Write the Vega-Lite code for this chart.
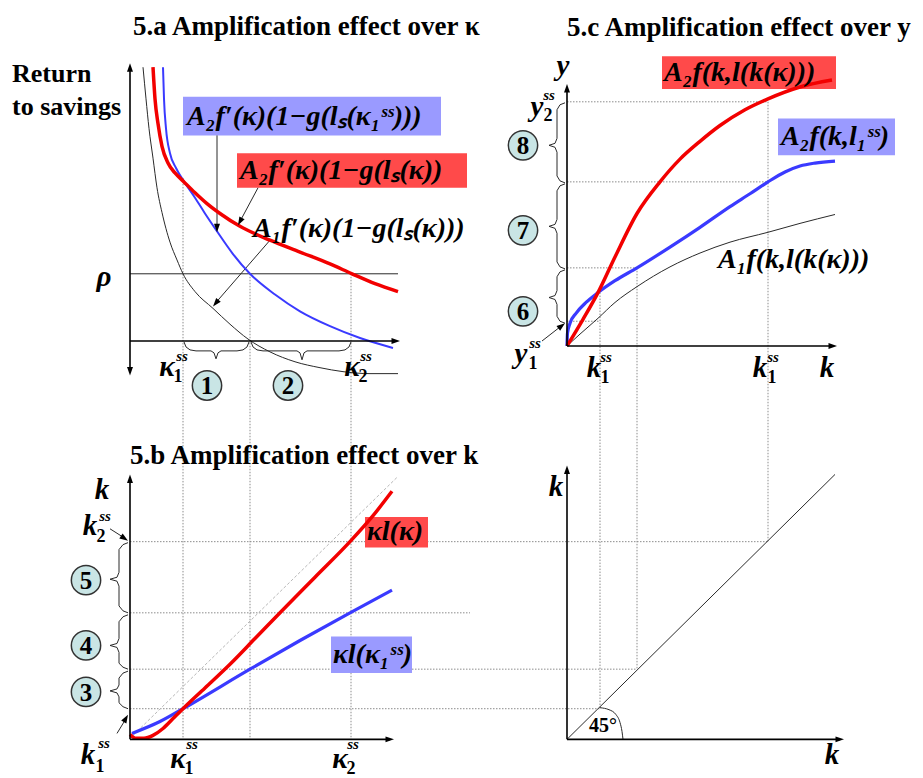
{
  "$schema": "https://vega.github.io/schema/vega-lite/v6.json",
  "width": 923,
  "height": 778,
  "padding": 0,
  "autosize": {"type": "fit", "contains": "padding"},
  "background": "white",
  "config": {"view": {"stroke": null}},
  "datasets": {
    "red": [
      {"id":"a","i":0,"x":153,"y":68},{"id":"a","i":1,"x":155,"y":100},{"id":"a","i":2,"x":158,"y":125},{"id":"a","i":3,"x":162,"y":148},{"id":"a","i":4,"x":168,"y":165},{"id":"a","i":5,"x":175,"y":175},{"id":"a","i":6,"x":183,"y":183},{"id":"a","i":7,"x":195,"y":195},{"id":"a","i":8,"x":207,"y":206},{"id":"a","i":9,"x":220,"y":216},{"id":"a","i":10,"x":240,"y":229},{"id":"a","i":11,"x":270,"y":243},{"id":"a","i":12,"x":300,"y":255},{"id":"a","i":13,"x":330,"y":267},{"id":"a","i":14,"x":352,"y":277},{"id":"a","i":15,"x":375,"y":287},{"id":"a","i":16,"x":398,"y":295},
      {"id":"c","i":0,"x":567,"y":350},{"id":"c","i":1,"x":583,"y":323},{"id":"c","i":2,"x":598,"y":296},{"id":"c","i":3,"x":615,"y":260},{"id":"c","i":4,"x":637,"y":216},{"id":"c","i":5,"x":660,"y":184},{"id":"c","i":6,"x":680,"y":161},{"id":"c","i":7,"x":700,"y":143},{"id":"c","i":8,"x":720,"y":127},{"id":"c","i":9,"x":745,"y":111},{"id":"c","i":10,"x":768,"y":100},{"id":"c","i":11,"x":800,"y":88},{"id":"c","i":12,"x":832,"y":81},
      {"id":"b","i":0,"x":130,"y":743},{"id":"b","i":1,"x":136,"y":747},{"id":"b","i":2,"x":144,"y":747},{"id":"b","i":3,"x":153,"y":744},{"id":"b","i":4,"x":163,"y":737},{"id":"b","i":5,"x":173,"y":727},{"id":"b","i":6,"x":183,"y":717},{"id":"b","i":7,"x":205,"y":696},{"id":"b","i":8,"x":230,"y":672},{"id":"b","i":9,"x":255,"y":646},{"id":"b","i":10,"x":280,"y":620},{"id":"b","i":11,"x":315,"y":584},{"id":"b","i":12,"x":350,"y":548},{"id":"b","i":13,"x":372,"y":523},{"id":"b","i":14,"x":392,"y":497}
    ],
    "blueA": [
      {"id":"a","i":0,"x":163,"y":68},{"id":"a","i":1,"x":164,"y":100},{"id":"a","i":2,"x":166,"y":130},{"id":"a","i":3,"x":170,"y":155},{"id":"a","i":4,"x":176,"y":170},{"id":"a","i":5,"x":183,"y":182},{"id":"a","i":6,"x":195,"y":200},{"id":"a","i":7,"x":205,"y":216},{"id":"a","i":8,"x":217,"y":234},{"id":"a","i":9,"x":233,"y":257},{"id":"a","i":10,"x":250,"y":277},{"id":"a","i":11,"x":275,"y":298},{"id":"a","i":12,"x":300,"y":315},{"id":"a","i":13,"x":330,"y":330},{"id":"a","i":14,"x":360,"y":342},{"id":"a","i":15,"x":393,"y":352}
    ],
    "blue": [
      {"id":"c","i":0,"x":567,"y":350},{"id":"c","i":1,"x":567.5,"y":337},{"id":"c","i":2,"x":570,"y":327},{"id":"c","i":3,"x":576,"y":317},{"id":"c","i":4,"x":586,"y":306},{"id":"c","i":5,"x":598,"y":296},{"id":"c","i":6,"x":615,"y":284},{"id":"c","i":7,"x":637,"y":271},{"id":"c","i":8,"x":670,"y":250},{"id":"c","i":9,"x":700,"y":230},{"id":"c","i":10,"x":730,"y":209},{"id":"c","i":11,"x":750,"y":196},{"id":"c","i":12,"x":768,"y":184},{"id":"c","i":13,"x":785,"y":174},{"id":"c","i":14,"x":800,"y":168},{"id":"c","i":15,"x":815,"y":165},{"id":"c","i":16,"x":835,"y":163},
      {"id":"b","i":0,"x":132,"y":742},{"id":"b","i":1,"x":160,"y":730},{"id":"b","i":2,"x":183,"y":717},{"id":"b","i":3,"x":250,"y":677},{"id":"b","i":4,"x":300,"y":648},{"id":"b","i":5,"x":350,"y":620},{"id":"b","i":6,"x":392,"y":597}
    ],
    "thin": [
      {"id":"a","i":0,"x":143,"y":68},{"id":"a","i":1,"x":146,"y":100},{"id":"a","i":2,"x":149,"y":130},{"id":"a","i":3,"x":153,"y":160},{"id":"a","i":4,"x":157,"y":190},{"id":"a","i":5,"x":162,"y":215},{"id":"a","i":6,"x":170,"y":245},{"id":"a","i":7,"x":177,"y":263},{"id":"a","i":8,"x":183,"y":277},{"id":"a","i":9,"x":195,"y":295},{"id":"a","i":10,"x":213,"y":312},{"id":"a","i":11,"x":230,"y":328},{"id":"a","i":12,"x":248,"y":343},{"id":"a","i":13,"x":270,"y":356},{"id":"a","i":14,"x":295,"y":366},{"id":"a","i":15,"x":320,"y":372},{"id":"a","i":16,"x":343,"y":376},{"id":"a","i":17,"x":370,"y":378},{"id":"a","i":18,"x":398,"y":378},
      {"id":"c","i":0,"x":567,"y":350},{"id":"c","i":1,"x":580,"y":338},{"id":"c","i":2,"x":598,"y":322},{"id":"c","i":3,"x":615,"y":306},{"id":"c","i":4,"x":637,"y":290},{"id":"c","i":5,"x":670,"y":270},{"id":"c","i":6,"x":700,"y":256},{"id":"c","i":7,"x":730,"y":245},{"id":"c","i":8,"x":768,"y":235},{"id":"c","i":9,"x":800,"y":226},{"id":"c","i":10,"x":835,"y":217},
      {"id":"rho","i":0,"x":130,"y":277},{"id":"rho","i":1,"x":398,"y":277},
      {"id":"p1","i":0,"x":217,"y":137},{"id":"p1","i":1,"x":217.01,"y":230},
      {"id":"p2","i":0,"x":258,"y":190},{"id":"p2","i":1,"x":240,"y":224},
      {"id":"p3","i":0,"x":270,"y":243},{"id":"p3","i":1,"x":216,"y":306},
      {"id":"p4","i":0,"x":542,"y":345},{"id":"p4","i":1,"x":561,"y":330},
      {"id":"p5","i":0,"x":110,"y":535},{"id":"p5","i":1,"x":124,"y":544},
      {"id":"p6","i":0,"x":117,"y":742},{"id":"p6","i":1,"x":126,"y":727},
      {"id":"d45","i":0,"x":567,"y":748},{"id":"d45","i":1,"x":835,"y":480},
      {"id":"arc","i":0,"x":600,"y":716},{"id":"arc","i":1,"x":609,"y":718},{"id":"arc","i":2,"x":616,"y":723},{"id":"arc","i":3,"x":620,"y":731},{"id":"arc","i":4,"x":622,"y":740},{"id":"arc","i":5,"x":623,"y":748}
    ],
    "axes": [
      {"id":"ay","i":0,"x":130,"y":68},{"id":"ay","i":1,"x":130,"y":376},
      {"id":"ax","i":0,"x":130,"y":345},{"id":"ax","i":1,"x":396,"y":345},
      {"id":"cy","i":0,"x":567,"y":90},{"id":"cy","i":1,"x":567,"y":350},
      {"id":"cx","i":0,"x":567,"y":350},{"id":"cx","i":1,"x":833,"y":350},
      {"id":"by","i":0,"x":130,"y":485},{"id":"by","i":1,"x":130,"y":748},
      {"id":"bx","i":0,"x":130,"y":748},{"id":"bx","i":1,"x":390,"y":748},
      {"id":"dy","i":0,"x":567,"y":476},{"id":"dy","i":1,"x":567,"y":748},
      {"id":"dx","i":0,"x":567,"y":748},{"id":"dx","i":1,"x":840,"y":748}
    ],
    "guides": [
      {"id":"g1","i":0,"x":183,"y":180},{"id":"g1","i":1,"x":183,"y":748},
      {"id":"g2","i":0,"x":250,"y":277},{"id":"g2","i":1,"x":250,"y":748},
      {"id":"g3","i":0,"x":351,"y":277},{"id":"g3","i":1,"x":351,"y":748},
      {"id":"g4","i":0,"x":600,"y":296},{"id":"g4","i":1,"x":600,"y":717},
      {"id":"g5","i":0,"x":637,"y":271},{"id":"g5","i":1,"x":637,"y":677},
      {"id":"g6","i":0,"x":768,"y":103},{"id":"g6","i":1,"x":768,"y":548},
      {"id":"g7","i":0,"x":567,"y":103},{"id":"g7","i":1,"x":768,"y":103},
      {"id":"g8","i":0,"x":567,"y":184},{"id":"g8","i":1,"x":768,"y":184},
      {"id":"g9","i":0,"x":567,"y":271},{"id":"g9","i":1,"x":637,"y":271},
      {"id":"g10","i":0,"x":567,"y":325},{"id":"g10","i":1,"x":600,"y":325},
      {"id":"g11","i":0,"x":130,"y":548},{"id":"g11","i":1,"x":768,"y":548},
      {"id":"g12","i":0,"x":130,"y":620},{"id":"g12","i":1,"x":470,"y":620},
      {"id":"g13","i":0,"x":130,"y":677},{"id":"g13","i":1,"x":637,"y":677},
      {"id":"g14","i":0,"x":130,"y":717},{"id":"g14","i":1,"x":600,"y":717}
    ],
    "diag": [
      {"id":"d","i":0,"x":130,"y":747},{"id":"d","i":1,"x":398,"y":482}
    ],
    "braces": [
      {"id":"b1","i":0,"x":184,"y":346},{"id":"b1","i":1,"x":186,"y":351},{"id":"b1","i":2,"x":190,"y":354},{"id":"b1","i":3,"x":196,"y":355},{"id":"b1","i":4,"x":211,"y":355},{"id":"b1","i":5,"x":214,"y":357},{"id":"b1","i":6,"x":216,"y":363},{"id":"b1","i":7,"x":218,"y":357},{"id":"b1","i":8,"x":221,"y":355},{"id":"b1","i":9,"x":237,"y":355},{"id":"b1","i":10,"x":243,"y":354},{"id":"b1","i":11,"x":247,"y":351},{"id":"b1","i":12,"x":249,"y":346},
      {"id":"b2","i":0,"x":251,"y":346},{"id":"b2","i":1,"x":253,"y":351},{"id":"b2","i":2,"x":257,"y":354},{"id":"b2","i":3,"x":263,"y":355},{"id":"b2","i":4,"x":297,"y":355},{"id":"b2","i":5,"x":300,"y":357},{"id":"b2","i":6,"x":302,"y":364},{"id":"b2","i":7,"x":304,"y":357},{"id":"b2","i":8,"x":307,"y":355},{"id":"b2","i":9,"x":339,"y":355},{"id":"b2","i":10,"x":345,"y":354},{"id":"b2","i":11,"x":349,"y":351},{"id":"b2","i":12,"x":351,"y":346},
      {"id":"b8","i":0,"x":565,"y":104},{"id":"b8","i":1,"x":560,"y":106},{"id":"b8","i":2,"x":557,"y":111},{"id":"b8","i":3,"x":557,"y":140},{"id":"b8","i":4,"x":555,"y":145},{"id":"b8","i":5,"x":549,"y":147},{"id":"b8","i":6,"x":555,"y":149},{"id":"b8","i":7,"x":557,"y":154},{"id":"b8","i":8,"x":557,"y":178},{"id":"b8","i":9,"x":560,"y":183},{"id":"b8","i":10,"x":565,"y":185},
      {"id":"b7","i":0,"x":565,"y":186},{"id":"b7","i":1,"x":560,"y":188},{"id":"b7","i":2,"x":557,"y":193},{"id":"b7","i":3,"x":557,"y":222},{"id":"b7","i":4,"x":555,"y":227},{"id":"b7","i":5,"x":549,"y":229},{"id":"b7","i":6,"x":555,"y":231},{"id":"b7","i":7,"x":557,"y":236},{"id":"b7","i":8,"x":557,"y":265},{"id":"b7","i":9,"x":560,"y":270},{"id":"b7","i":10,"x":565,"y":272},
      {"id":"b6","i":0,"x":565,"y":273},{"id":"b6","i":1,"x":560,"y":275},{"id":"b6","i":2,"x":557,"y":280},{"id":"b6","i":3,"x":557,"y":294},{"id":"b6","i":4,"x":555,"y":299},{"id":"b6","i":5,"x":549,"y":301},{"id":"b6","i":6,"x":555,"y":303},{"id":"b6","i":7,"x":557,"y":308},{"id":"b6","i":8,"x":557,"y":320},{"id":"b6","i":9,"x":560,"y":325},{"id":"b6","i":10,"x":565,"y":327},
      {"id":"b5","i":0,"x":128,"y":549},{"id":"b5","i":1,"x":123,"y":551},{"id":"b5","i":2,"x":119,"y":556},{"id":"b5","i":3,"x":119,"y":579},{"id":"b5","i":4,"x":117,"y":584},{"id":"b5","i":5,"x":110,"y":586},{"id":"b5","i":6,"x":117,"y":588},{"id":"b5","i":7,"x":119,"y":593},{"id":"b5","i":8,"x":119,"y":613},{"id":"b5","i":9,"x":123,"y":618},{"id":"b5","i":10,"x":128,"y":620},
      {"id":"b4","i":0,"x":128,"y":622},{"id":"b4","i":1,"x":123,"y":624},{"id":"b4","i":2,"x":119,"y":629},{"id":"b4","i":3,"x":119,"y":646},{"id":"b4","i":4,"x":117,"y":651},{"id":"b4","i":5,"x":110,"y":653},{"id":"b4","i":6,"x":117,"y":655},{"id":"b4","i":7,"x":119,"y":660},{"id":"b4","i":8,"x":119,"y":671},{"id":"b4","i":9,"x":123,"y":675},{"id":"b4","i":10,"x":128,"y":677},
      {"id":"b3","i":0,"x":128,"y":679},{"id":"b3","i":1,"x":123,"y":681},{"id":"b3","i":2,"x":119,"y":686},{"id":"b3","i":3,"x":119,"y":693},{"id":"b3","i":4,"x":117,"y":697},{"id":"b3","i":5,"x":110,"y":699},{"id":"b3","i":6,"x":117,"y":701},{"id":"b3","i":7,"x":119,"y":705},{"id":"b3","i":8,"x":119,"y":711},{"id":"b3","i":9,"x":123,"y":715},{"id":"b3","i":10,"x":128,"y":717}
    ],
    "heads": [
      {"x":130,"y":64,"a":0},{"x":130,"y":380,"a":180},{"x":400,"y":345,"a":90},
      {"x":567,"y":85,"a":0},{"x":837,"y":350,"a":90},
      {"x":130,"y":480,"a":0},{"x":394,"y":748,"a":90},
      {"x":567,"y":471,"a":0},{"x":844,"y":748,"a":90},
      {"x":217,"y":235,"a":180},{"x":238,"y":228,"a":208},{"x":213,"y":310,"a":220},
      {"x":565,"y":327,"a":52},{"x":128,"y":547,"a":124},{"x":128,"y":723,"a":30}
    ],
    "boxes": [
      {"x":183,"x2":441,"y":98,"y2":137,"c":"blue"},
      {"x":237,"x2":467,"y":155,"y2":190,"c":"red"},
      {"x":662,"x2":836,"y":57,"y2":90,"c":"red"},
      {"x":778,"x2":895,"y":120,"y2":157,"c":"blue"},
      {"x":365,"x2":428,"y":523,"y2":554,"c":"red"},
      {"x":331,"x2":412,"y":644,"y2":681,"c":"blue"}
    ],
    "circles": [
      {"n":"1","x":207,"y":390},{"n":"2","x":288,"y":390},
      {"n":"8","x":523,"y":147},{"n":"7","x":523,"y":233},{"n":"6","x":523,"y":315},
      {"n":"5","x":86,"y":587},{"n":"4","x":86,"y":653},{"n":"3","x":86,"y":700}
    ],
    "titles": [
      {"t":"5.a Amplification effect over κ","x":133,"y":27},
      {"t":"5.c Amplification effect over y","x":567,"y":28},
      {"t":"5.b Amplification effect over k","x":130,"y":461}
    ],
    "plain": [
      {"t":"Return","x":12,"y":75},
      {"t":"to savings","x":12,"y":108}
    ],
    "formula": [
      {"t":"A₂f′(κ)(1−g(lₛ(κ₁ˢˢ)))","x":187,"y":118},
      {"t":"A₂f′(κ)(1−g(lₛ(κ))","x":240,"y":173},
      {"t":"A₁f′(κ)(1−g(lₛ(κ)))","x":253,"y":232},
      {"t":"A₂f(k,l(k(κ)))","x":664,"y":74},
      {"t":"A₂f(k,l₁ˢˢ)","x":781,"y":139},
      {"t":"A₁f(k,l(k(κ)))","x":718,"y":263},
      {"t":"κl(κ)","x":367,"y":538},
      {"t":"κl(κ₁ˢˢ)","x":333,"y":663}
    ],
    "sym": [
      {"t":"ρ","x":104,"y":280},{"t":"κ","x":167,"y":371},{"t":"κ","x":352,"y":371},
      {"t":"y","x":563,"y":67},{"t":"y","x":537,"y":108},{"t":"y","x":521,"y":358},
      {"t":"k","x":827,"y":372},{"t":"k","x":594,"y":372},{"t":"k","x":760,"y":372},
      {"t":"k","x":102,"y":496},{"t":"k","x":90,"y":532},{"t":"k","x":88,"y":764},
      {"t":"κ","x":178,"y":768},{"t":"κ","x":340,"y":768},
      {"t":"k","x":556,"y":493},{"t":"k","x":832,"y":764}
    ],
    "sub": [
      {"t":"1","x":178,"y":381},{"t":"2","x":363,"y":381},
      {"t":"2","x":548,"y":117},{"t":"1","x":533,"y":368},{"t":"1","x":605,"y":382},{"t":"1","x":772,"y":382},
      {"t":"2","x":101,"y":543},{"t":"1","x":100,"y":776},{"t":"1","x":189,"y":778},{"t":"2","x":351,"y":778}
    ],
    "sup": [
      {"t":"ss","x":182,"y":360},{"t":"ss","x":366,"y":360},
      {"t":"ss","x":549,"y":96},{"t":"ss","x":535,"y":347},{"t":"ss","x":606,"y":361},{"t":"ss","x":773,"y":361},
      {"t":"ss","x":105,"y":522},{"t":"ss","x":104,"y":752},{"t":"ss","x":192,"y":753},{"t":"ss","x":353,"y":753}
    ],
    "deg": [
      {"t":"45°","x":603,"y":735}
    ]
  },
  "encoding": {
    "x": {"field": "x", "type": "quantitative", "scale": {"domain": [0, 923], "nice": false, "zero": false}, "axis": null},
    "y": {"field": "y", "type": "quantitative", "scale": {"domain": [0, 778], "reverse": true, "nice": false, "zero": false}, "axis": null}
  },
  "layer": [
    {
      "data": {"name": "guides"},
      "mark": {"type": "line", "color": "#8c8c8c", "strokeWidth": 1, "strokeDash": [1.5, 1.5]},
      "encoding": {"detail": {"field": "id"}, "order": {"field": "i", "type": "quantitative"}}
    },
    {
      "data": {"name": "diag"},
      "mark": {"type": "line", "color": "#b8b8b8", "strokeWidth": 1, "strokeDash": [3, 2]},
      "encoding": {"detail": {"field": "id"}, "order": {"field": "i", "type": "quantitative"}}
    },
    {
      "data": {"name": "boxes"},
      "mark": {"type": "rect"},
      "encoding": {
        "x2": {"field": "x2"},
        "y2": {"field": "y2"},
        "color": {"field": "c", "type": "nominal", "scale": {"domain": ["red", "blue"], "range": ["#ff4a4a", "#9a9aff"]}, "legend": null}
      }
    },
    {
      "data": {"name": "thin"},
      "mark": {"type": "line", "color": "#2a2a2a", "strokeWidth": 1, "interpolate": "monotone"},
      "encoding": {"detail": {"field": "id"}, "order": {"field": "i", "type": "quantitative"}}
    },
    {
      "data": {"name": "braces"},
      "mark": {"type": "line", "color": "#2a2a2a", "strokeWidth": 1},
      "encoding": {"detail": {"field": "id"}, "order": {"field": "i", "type": "quantitative"}}
    },
    {
      "data": {"name": "blueA"},
      "mark": {"type": "line", "color": "#3a3aff", "strokeWidth": 2, "interpolate": "monotone"},
      "encoding": {"detail": {"field": "id"}, "order": {"field": "i", "type": "quantitative"}}
    },
    {
      "data": {"name": "blue"},
      "mark": {"type": "line", "color": "#3a3aff", "strokeWidth": 3.2, "interpolate": "monotone"},
      "encoding": {"detail": {"field": "id"}, "order": {"field": "i", "type": "quantitative"}}
    },
    {
      "data": {"name": "red"},
      "mark": {"type": "line", "color": "#f20000", "strokeWidth": 3.5, "interpolate": "monotone"},
      "encoding": {"detail": {"field": "id"}, "order": {"field": "i", "type": "quantitative"}}
    },
    {
      "data": {"name": "axes"},
      "mark": {"type": "line", "color": "#000000", "strokeWidth": 1.6},
      "encoding": {"detail": {"field": "id"}, "order": {"field": "i", "type": "quantitative"}}
    },
    {
      "data": {"name": "heads"},
      "mark": {"type": "point", "shape": "M0,0L-0.42,1.2L0.42,1.2Z", "filled": true, "color": "#000000", "opacity": 1, "size": 200},
      "encoding": {"angle": {"field": "a", "type": "quantitative", "scale": null}}
    },
    {
      "data": {"name": "circles"},
      "mark": {"type": "point", "shape": "circle", "filled": true, "fill": "#c9e5e5", "stroke": "#333333", "strokeWidth": 1.5, "opacity": 1, "size": 860}
    },
    {
      "data": {"name": "circles"},
      "mark": {"type": "text", "font": "Liberation Serif", "fontWeight": "bold", "fontSize": 25, "align": "center", "baseline": "middle", "color": "#000000", "dy": 1},
      "encoding": {"text": {"field": "n"}}
    },
    {
      "data": {"name": "titles"},
      "mark": {"type": "text", "font": "Liberation Serif", "fontWeight": "bold", "fontSize": 27, "align": "left", "baseline": "middle", "color": "#000000"},
      "encoding": {"text": {"field": "t"}}
    },
    {
      "data": {"name": "plain"},
      "mark": {"type": "text", "font": "Liberation Serif", "fontWeight": "bold", "fontSize": 26, "align": "left", "baseline": "middle", "color": "#000000"},
      "encoding": {"text": {"field": "t"}}
    },
    {
      "data": {"name": "formula"},
      "mark": {"type": "text", "font": "Liberation Serif", "fontWeight": "bold", "fontStyle": "italic", "fontSize": 28, "align": "left", "baseline": "middle", "color": "#000000"},
      "encoding": {"text": {"field": "t"}}
    },
    {
      "data": {"name": "sym"},
      "mark": {"type": "text", "font": "Liberation Serif", "fontWeight": "bold", "fontStyle": "italic", "fontSize": 29, "align": "center", "baseline": "middle", "color": "#000000"},
      "encoding": {"text": {"field": "t"}}
    },
    {
      "data": {"name": "sub"},
      "mark": {"type": "text", "font": "Liberation Serif", "fontWeight": "bold", "fontSize": 18, "align": "center", "baseline": "middle", "color": "#000000"},
      "encoding": {"text": {"field": "t"}}
    },
    {
      "data": {"name": "sup"},
      "mark": {"type": "text", "font": "Liberation Serif", "fontWeight": "bold", "fontStyle": "italic", "fontSize": 15, "align": "center", "baseline": "middle", "color": "#000000"},
      "encoding": {"text": {"field": "t"}}
    },
    {
      "data": {"name": "deg"},
      "mark": {"type": "text", "font": "Liberation Serif", "fontWeight": "bold", "fontSize": 20, "align": "center", "baseline": "middle", "color": "#000000"},
      "encoding": {"text": {"field": "t"}}
    }
  ]
}
